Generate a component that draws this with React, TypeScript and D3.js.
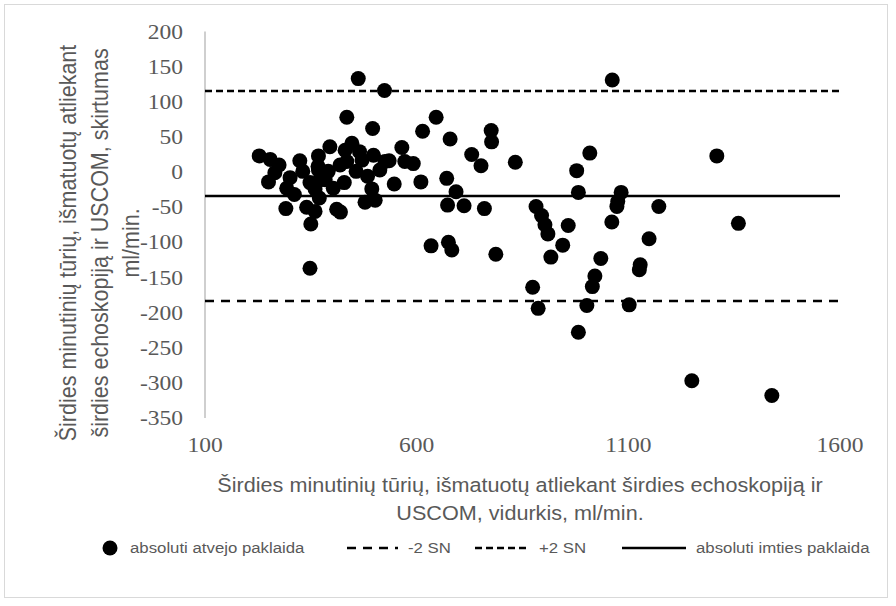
import React from "react";
import * as d3 from "d3";

// Mean cardiac output of the two methods (ml/min)
const averages = [
  228, 254, 275, 250, 265, 293, 311, 291, 324, 331, 340, 360, 350, 368, 368,
  372, 360, 370, 395, 391, 403, 411, 420, 431, 447, 465, 435, 429, 457, 484,
  498, 494, 502, 478, 525, 547, 535, 496, 462, 524, 435, 646, 614, 679, 776,
  777, 565, 572, 592, 610, 671, 693, 673, 712, 760, 730, 752, 833, 634, 675,
  683, 787, 874, 882, 895, 903, 910, 917, 887, 945, 958, 978, 982, 1009, 1062,
  1083, 1075, 1073, 1172, 1061, 1035, 1021, 1015, 1002, 982, 1102, 1149, 1128,
  1126, 1309, 1360, 1250, 1439, 348, 301, 384, 419, 471, 513, 348, 367,
];

// Difference between echocardiography and USCOM (ml/min)
const differences = [
  23, 18, 10, -14, -1, -23, -32, -52, 16, 1, -50, -56, -74, 23, 3,
  -11, -24, -37, 36, 1, -23, -53, -57, 31, 41, 29, 15, -15, 1, -6,
  24, -24, -40, -43, 15, -17, 16, 62, 133, 116, 78, 78, 58, 47, 59,
  43, 35, 15, 12, -14, -9, -28, -47, -48, -52, 25, 9, 14, -105, -100,
  -111, -117, -164, -49, -62, -75, -88, -121, -194, -104, -76, 2, -29, 27, 131,
  -29, -42, -49, -49, -71, -123, -148, -163, -190, -228, -189, -95, -132,
  -139, 23, -73, -297, -318, -137, -8, -11, 10, 17, 3, -15, 8,
];

const meanDifference = -34;
const lowerLimit = -183.5;
const upperLimit = 115.5;

const xTicks = [100, 600, 1100, 1600];
const yTicks = [200, 150, 100, 50, 0, -50, -100, -150, -200, -250, -300, -350];

const xTitleLines = [
  "Širdies minutinių tūrių, išmatuotų atliekant širdies echoskopiją ir",
  "USCOM, vidurkis, ml/min.",
];
const yTitleLines = [
  "Širdies minutinių tūrių, išmatuotų atliekant",
  "širdies echoskopiją ir USCOM, skirtumas",
  "ml/min.",
];
const legendLabels = [
  "absoluti atvejo paklaida",
  "-2 SN",
  "+2 SN",
  "absoluti imties paklaida",
];

const W = 896;
const H = 606;
const SX = 1.12; // horizontal glyph stretch
const TEXT = "#595959";
const SANS = "'Liberation Sans', Arial, sans-serif";
const SERIF = "'Liberation Serif', 'Times New Roman', serif";

const x = d3.scaleLinear().domain([100, 1600]).range([205, 840]);
const y = d3.scaleLinear().domain([200, -350]).range([31.5, 418]);

type LabelProps = {
  px: number;
  py: number;
  size: number;
  family: string;
  anchor?: "start" | "middle" | "end";
  rotate?: boolean;
  children: React.ReactNode;
};

function Label({ px, py, size, family, anchor = "middle", rotate, children }: LabelProps) {
  return (
    <text
      transform={`translate(${px},${py}) scale(${SX},1)${rotate ? " rotate(-90)" : ""}`}
      textAnchor={anchor}
      dominantBaseline="central"
      fontSize={size}
      fontFamily={family}
      fill={TEXT}
    >
      {children}
    </text>
  );
}

const LONG_DASH = "9 7";
const SHORT_DASH = "7 4";

export default function App() {
  const refLines = [
    { v: upperLimit, dash: SHORT_DASH },
    { v: lowerLimit, dash: LONG_DASH },
    { v: meanDifference, dash: undefined as string | undefined },
  ];
  const legendY = 548;

  return (
    <svg
      width={W}
      height={H}
      style={{ position: "absolute", left: 0, top: 0, background: "#fff" }}
    >
      <rect x={4.5} y={4.5} width={883} height={593} fill="#fff" stroke="#d9d9d9" />

      {/* vertical axis */}
      <line x1={x(100)} x2={x(100)} y1={y(200)} y2={y(-350)} stroke="#bfbfbf" strokeWidth={1.5} />
      {yTicks.map((t) => (
        <Label key={t} px={183} py={y(t)} size={21} family={SERIF} anchor="end">
          {t}
        </Label>
      ))}
      {xTicks.map((t) => (
        <Label key={t} px={x(t)} py={445} size={21} family={SERIF}>
          {t}
        </Label>
      ))}

      {/* limits of agreement and mean difference */}
      {refLines.map((r, i) => (
        <line
          key={i}
          x1={x(100)}
          x2={x(1600)}
          y1={y(r.v)}
          y2={y(r.v)}
          stroke="#000"
          strokeWidth={2.5}
          strokeDasharray={r.dash}
        />
      ))}

      {averages.map((a, i) => (
        <circle key={i} cx={x(a)} cy={y(differences[i])} r={7.5} fill="#000" />
      ))}

      {/* axis titles */}
      {xTitleLines.map((s, i) => (
        <Label key={s} px={520} py={485 + i * 28} size={19.3} family={SANS}>
          {s}
        </Label>
      ))}
      {yTitleLines.map((s, i) => (
        <Label key={s} px={68 + i * 31.5} py={243} size={21.5} family={SANS} rotate>
          {s}
        </Label>
      ))}

      {/* legend */}
      <circle cx={110} cy={legendY} r={7.5} fill="#000" />
      <Label px={130} py={legendY} size={15} family={SANS} anchor="start">
        {legendLabels[0]}
      </Label>
      <line x1={347} x2={398} y1={legendY} y2={legendY} stroke="#000" strokeWidth={2.5} strokeDasharray={LONG_DASH} />
      <Label px={408} py={legendY} size={15} family={SANS} anchor="start">
        {legendLabels[1]}
      </Label>
      <line x1={475} x2={530} y1={legendY} y2={legendY} stroke="#000" strokeWidth={2.5} strokeDasharray={SHORT_DASH} />
      <Label px={539} py={legendY} size={15} family={SANS} anchor="start">
        {legendLabels[2]}
      </Label>
      <line x1={622} x2={686} y1={legendY} y2={legendY} stroke="#000" strokeWidth={2.5} />
      <Label px={696} py={legendY} size={15} family={SANS} anchor="start">
        {legendLabels[3]}
      </Label>
    </svg>
  );
}
